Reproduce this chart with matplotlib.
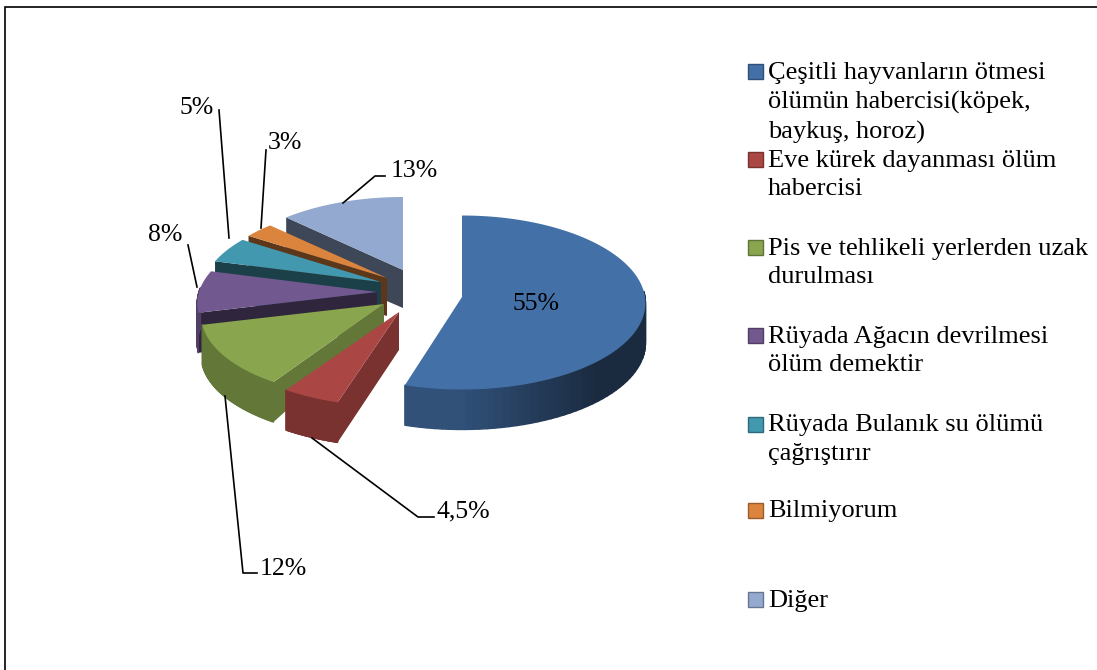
import numpy as np
import matplotlib
matplotlib.use('Agg')
import matplotlib.pyplot as plt
from matplotlib.patches import Polygon, Rectangle
from matplotlib.collections import PolyCollection

plt.rcParams['font.family'] = ['Liberation Serif', 'DejaVu Serif']

categories = ['Çeşitli hayvanların ötmesi\nölümün habercisi(köpek,\nbaykuş, horoz)',
              'Eve kürek dayanması ölüm\nhabercisi',
              'Pis ve tehlikeli yerlerden uzak\ndurulması',
              'Rüyada Ağacın devrilmesi\nölüm demektir',
              'Rüyada Bulanık su ölümü\nçağrıştırır',
              'Bilmiyorum',
              'Diğer']
values = [55, 4.5, 12, 8, 5, 3, 13]
labels = ['55%', '4,5%', '12%', '8%', '5%', '3%', '13%']
colors = ['#4470a8', '#aa4643', '#89a54e', '#71588f', '#4198af', '#db843d', '#93a9cf']
# how far each slice is pulled from the pie centre, in pixels
explode_x = [77, 14, -1, -8, -4, 2, 18]
explode_y = [-5, 10, 2, -10, -20, -24, -32]
# slice radii, perspective strength and wall height at the apex
radius_x = [183, 185, 181, 178, 178, 178, 178]
radius_y = [87, 84, 84, 84, 84, 84, 84]
persp = [0.5, 1, 1, 1, 1, 1, 1]
apex_depth = [40, 38, 19, 40, 40, 38, 38]
legend_y = [71, 159, 247, 335, 424, 510, 599]
label_pos = [(536, 304), (463, 511), (283, 569), (165, 235), (197, 108), (285, 143), (414, 171)]

cx, cy = 385, 302
depth = 40


def darker(col, f):
    c = np.array(matplotlib.colors.to_rgb(col))
    return tuple(c * f)


def draw_slice(ax, a0, a1, col, ox, oy, rx, ry, p, d_apex, z):
    t = np.linspace(a0, a1, 90)
    # front of the pie looks bigger than the back
    xs = ox + rx * (1 - 0.14 * p * np.cos(t)) * np.sin(t)
    ys = oy - (ry - 11 * p * np.cos(t)) * np.cos(t)
    wall = 0.42 if a0 > np.deg2rad(240) else 0.72
    ax.add_patch(Polygon([(ox, oy), (xs[0], ys[0]), (xs[0], ys[0] + depth), (ox, oy + d_apex)],
                         closed=True, fc=darker(col, wall), ec='none', zorder=z))
    # outer rim, shaded across the curve
    quads = []
    shades = []
    for i in range(len(t) - 1):
        if np.cos((t[i] + t[i + 1]) / 2) > 0.05:
            continue
        quads.append([(xs[i], ys[i]), (xs[i + 1], ys[i + 1]),
                      (xs[i + 1], ys[i + 1] + depth), (xs[i], ys[i] + depth)])
        f = 0.72 - 0.34 * min(1, max(0, np.sin(t[i])) * 1.4)
        shades.append(darker(col, f))
    if quads:
        ax.add_collection(PolyCollection(quads, facecolors=shades, edgecolors=shades, linewidths=1.0, zorder=z))
    ax.add_patch(Polygon(np.vstack([[ox, oy], np.column_stack([xs, ys])]), closed=True,
                         fc=col, ec='none', zorder=z + 0.5))


fig = plt.figure(figsize=(10.97, 6.70), dpi=100)
ax = fig.add_axes([0, 0, 1, 1])
ax.set_xlim(0, 1097)
ax.set_ylim(670, 0)
ax.axis('off')
ax.add_patch(Rectangle((5, 7), 1200, 800, fc='white', ec='black', lw=1.2, zorder=0))

total = sum(values)
edges = np.cumsum([0] + values) / total * 2 * np.pi
# back slices first so the front ones cover them
order = [6, 5, 4, 3, 2, 1, 0]
for z, i in enumerate(order):
    draw_slice(ax, edges[i], edges[i + 1], colors[i], cx + explode_x[i], cy + explode_y[i],
               radius_x[i], radius_y[i], persp[i], apex_depth[i], 2 + z)

# leader lines
leaders = [[(312, 438), (418, 517), (434, 517)],
           [(225, 396), (243, 573), (257, 573)],
           [(197, 287), (188, 245)],
           [(229, 238), (219, 110)],
           [(261, 228), (266, 150)],
           [(343, 203), (375, 176), (385, 176)]]
for pts in leaders:
    pts = np.array(pts)
    ax.plot(pts[:, 0], pts[:, 1], color='black', lw=1.2, zorder=20)

for lab, (x, y) in zip(labels, label_pos):
    ax.text(x, y, lab, fontsize=18.5, ha='center', va='center', zorder=21)

for cat, col, y in zip(categories, colors, legend_y):
    ax.add_patch(Rectangle((748, y - 7.5), 15, 15, fc=col, ec=darker(col, 0.7), lw=1, zorder=5))
    ax.text(768, y - 9.5, cat, fontsize=19, va='top', ha='left', linespacing=1.41, zorder=5)

fig.savefig('out.png', dpi=100)
